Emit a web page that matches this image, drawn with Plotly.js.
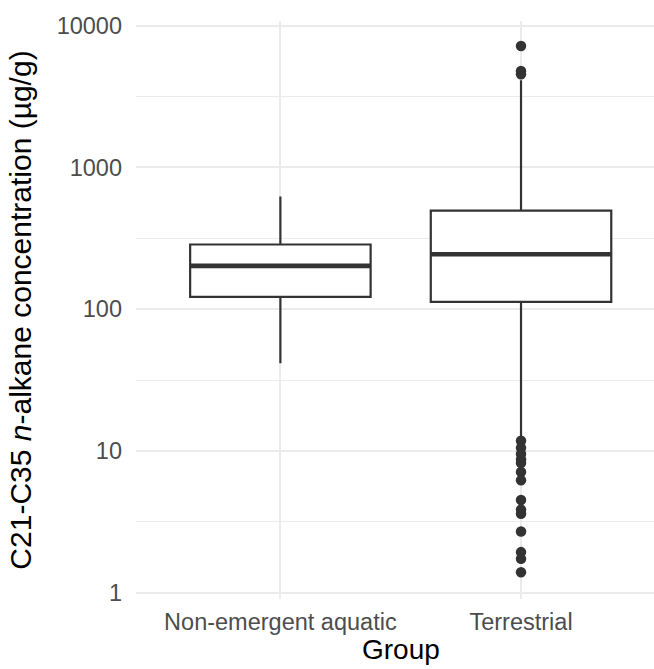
<!DOCTYPE html>
<html>
<head>
<meta charset="utf-8">
<script src="https://cdn.plot.ly/plotly-3.0.1.min.js"></script>
<style>html,body{margin:0;padding:0;background:#fff;}</style>
</head>
<body>
<div id="chart" style="width:654px;height:669px;"></div>
<script>
// Categories
const groups = ["Non-emergent aquatic", "Terrestrial"];
// Box statistics (µg/g)
const lowerWhisker = [41.5, 12.5];
const q1Values     = [122, 112.5];
const medianValues = [202, 244];
const q3Values     = [286, 496];
const upperWhisker = [625, 4130];
// Outliers (all belong to Terrestrial)
const outlierGroup  = ["Terrestrial","Terrestrial","Terrestrial",
  "Terrestrial","Terrestrial","Terrestrial","Terrestrial","Terrestrial","Terrestrial",
  "Terrestrial","Terrestrial","Terrestrial","Terrestrial","Terrestrial","Terrestrial",
  "Terrestrial","Terrestrial"];
const outlierValues = [7200, 4800, 4550,
  11.8, 10.5, 9.5, 8.7, 8.2, 7.1, 6.2, 4.5, 3.85, 3.6, 2.7, 1.93, 1.73, 1.39];
// Axis ticks
const yTickVals  = [1, 10, 100, 1000, 10000];
const yTickText  = ["1", "10", "100", "1000", "10000"];
const yMinorVals = [3.162, 31.62, 316.2, 3162];
const yTitle = "C21-C35 <i>n</i>-alkane concentration (µg/g)";
const xTitle = "Group";

const dark = "#333333";
const grid = "#EBEBEB";
const font = "Liberation Sans, Arial, sans-serif";

const traces = [
  {
    type: "box",
    x: groups,
    q1: q1Values, median: medianValues, q3: q3Values,
    lowerfence: lowerWhisker, upperfence: upperWhisker,
    width: 0.75,
    whiskerwidth: 0,
    boxpoints: false,
    fillcolor: "#ffffff",
    line: {color: dark, width: 2.2},
    hoverinfo: "skip",
    showlegend: false
  },
  {
    // thicker median line (ggplot draws the median bolder)
    type: "box",
    x: groups,
    q1: medianValues, median: medianValues, q3: medianValues,
    lowerfence: medianValues, upperfence: medianValues,
    width: 0.75,
    whiskerwidth: 0,
    boxpoints: false,
    fillcolor: "rgba(0,0,0,0)",
    line: {color: dark, width: 4.6},
    hoverinfo: "skip",
    showlegend: false
  },
  {
    type: "scatter",
    mode: "markers",
    x: outlierGroup,
    y: outlierValues,
    marker: {color: dark, size: 10.5},
    hoverinfo: "skip",
    showlegend: false
  }
];

const layout = {
  width: 654, height: 669,
  margin: {l: 136, r: 0, t: 21, b: 70, pad: 0},
  paper_bgcolor: "#ffffff",
  plot_bgcolor: "#ffffff",
  font: {family: font, color: "#4D4D4D", size: 23},
  boxmode: "overlay",
  showlegend: false,
  xaxis: {
    type: "category",
    categoryorder: "array",
    categoryarray: groups,
    range: [-0.6, 1.5526],
    showgrid: true, gridcolor: grid, gridwidth: 2,
    zeroline: false, showline: false, ticks: "",
    tickfont: {family: font, size: 23.5, color: "#4D4D4D"},
    ticklabelstandoff: 6,
    fixedrange: true
  },
  yaxis: {
    type: "log",
    range: [-0.0454, 4.0336],
    tickmode: "array",
    tickvals: yTickVals,
    ticktext: yTickText,
    showgrid: true, gridcolor: grid, gridwidth: 2,
    minor: {tickmode: "array", tickvals: yMinorVals, showgrid: true, gridcolor: grid, gridwidth: 1, ticks: ""},
    zeroline: false, showline: false, ticks: "",
    tickfont: {family: font, size: 23.5, color: "#4D4D4D"},
    ticklabelstandoff: 13,
    title: {text: yTitle, font: {family: font, size: 30, color: "#000000"}, standoff: 16},
    fixedrange: true
  },
  annotations: [{
    text: xTitle,
    xref: "x", yref: "paper",
    x: 0.5, y: 0,
    yshift: -68,
    xanchor: "center", yanchor: "bottom",
    showarrow: false,
    font: {family: font, size: 28, color: "#000000"}
  }]
};

Plotly.newPlot("chart", traces, layout, {displayModeBar: false, staticPlot: true});
</script>
</body>
</html>
